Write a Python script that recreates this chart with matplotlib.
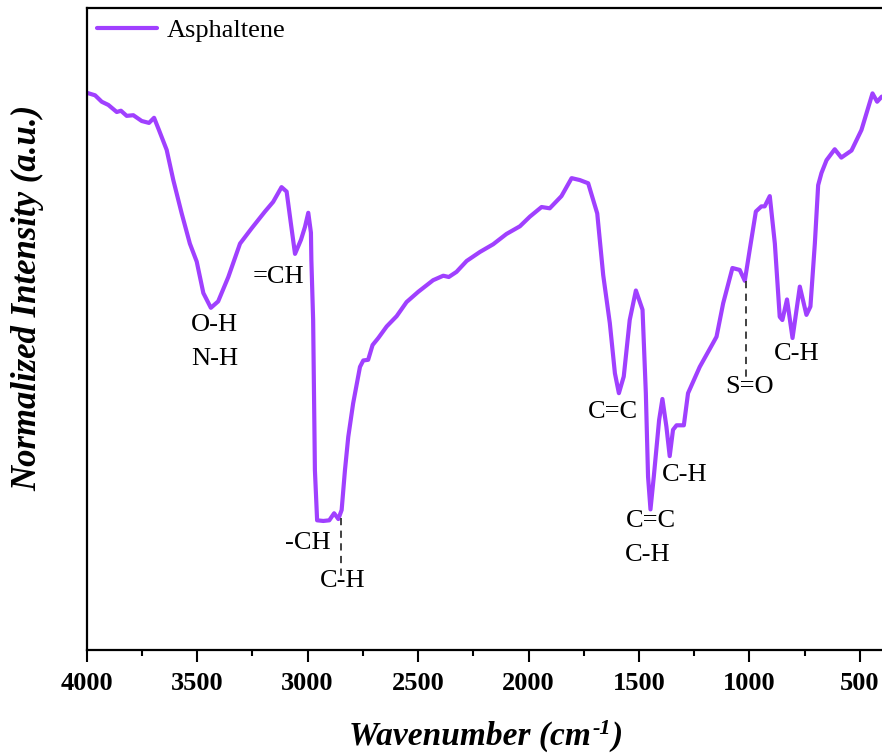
import matplotlib
matplotlib.use("Agg")
import matplotlib.pyplot as plt
from matplotlib.ticker import MultipleLocator

plt.rcParams['font.family'] = ['Liberation Serif', 'DejaVu Serif']

# ---- data ----
wavenumber = [4000, 3962, 3932, 3902, 3864, 3845, 3819, 3789, 3751, 3718, 3695, 3673,
              3638, 3608, 3570, 3533, 3502, 3472, 3438, 3405, 3359, 3306, 3253, 3193,
              3156, 3118, 3095, 3076, 3057, 3030, 3012, 2997, 2985, 2983, 2975, 2967,
              2957, 2929, 2902, 2880, 2861, 2846, 2831, 2816, 2794, 2763, 2748, 2726,
              2706, 2680, 2642, 2597, 2552, 2499, 2432, 2386, 2361, 2326, 2280, 2220,
              2160, 2100, 2039, 1994, 1941, 1904, 1851, 1805, 1768, 1730, 1689, 1662,
              1632, 1609, 1591, 1569, 1542, 1514, 1484, 1469, 1459, 1448, 1433, 1409,
              1394, 1376, 1361, 1346, 1330, 1297, 1278, 1225, 1165, 1149, 1119, 1077,
              1044, 1021, 999, 971, 946, 931, 908, 885, 863, 851, 830, 805, 772, 742,
              724, 704, 689, 674, 651, 614, 584, 538, 493, 443, 422, 401]
intensity = [86.8, 86.4, 85.4, 84.9, 83.8, 84.0, 83.2, 83.3, 82.4, 82.1, 82.9, 81.0,
             77.9, 73.2, 68.0, 63.3, 60.5, 55.6, 53.3, 54.3, 58.1, 63.3, 65.7, 68.3,
             69.8, 72.1, 71.4, 66.5, 61.7, 63.9, 65.9, 68.1, 65.0, 60.7, 51.4, 28.0,
             20.2, 20.1, 20.2, 21.3, 20.4, 21.8, 28.0, 33.2, 38.4, 44.1, 45.1, 45.2,
             47.5, 48.6, 50.4, 52.0, 54.2, 55.8, 57.6, 58.3, 58.1, 58.9, 60.6, 62.0,
             63.2, 64.8, 66.0, 67.5, 69.0, 68.8, 70.7, 73.5, 73.2, 72.7, 68.0, 58.4,
             50.9, 43.1, 40.0, 42.6, 51.4, 56.0, 53.0, 40.0, 27.0, 21.9, 27.0, 35.8,
             39.1, 34.8, 30.2, 34.3, 35.0, 35.0, 40.0, 44.1, 47.8, 48.8, 54.0, 59.5,
             59.2, 57.5, 62.3, 68.3, 69.1, 69.1, 70.7, 63.3, 51.9, 51.4, 54.6, 48.6,
             56.6, 52.2, 53.5, 63.3, 72.4, 74.3, 76.3, 78.0, 76.7, 77.8, 81.0, 86.7,
             85.4, 86.2]
series_name = "Asphaltene"

# band labels: (text, wavenumber, intensity)
band_labels = [("O-H", 3421, 50.7), ("N-H", 3421, 45.3), ("=CH", 3131, 58.1),
               ("-CH", 2997, 16.6), ("C-H", 2842, 10.8), ("C=C", 1617, 37.0),
               ("C-H", 1293, 27.3), ("C=C", 1448, 20.1), ("C-H", 1459, 14.8),
               ("S=O", 999, 40.9), ("C-H", 784, 46.1)]
# dashed leader lines: (wavenumber, y_start, y_end)
leaders = [(2849, 20.6, 11.2), (1017, 57.4, 42.3)]

xticks = [4000, 3500, 3000, 2500, 2000, 1500, 1000, 500]

W, H = 882, 753
fig = plt.figure(figsize=(W / 100, H / 100), dpi=100)
left, right, bottom, top = 86.7, 882, 650, 8
ax = fig.add_axes([left / W, (H - bottom) / H, (right - left) / W, (bottom - top) / H])

ax.plot(wavenumber, intensity, color='#A040FF', lw=3.0, solid_joinstyle='round',
        solid_capstyle='round', label=series_name)

for wn, y0, y1 in leaders:
    ax.plot([wn, wn], [y0, y1], color='#333333', lw=1.3, ls=(0, (4, 3)))

for txt, wn, y in band_labels:
    ax.text(wn, y, txt, ha='center', va='center', fontsize=19, color='black')

ax.set_xlim(4000, 400)
ax.set_ylim(0, 100)
ax.set_xticks(xticks)
ax.xaxis.set_minor_locator(MultipleLocator(250))
ax.set_yticks([])
ax.tick_params(axis='x', which='major', direction='out', length=8.5, width=1.5,
               labelsize=19, pad=7)
ax.tick_params(axis='x', which='minor', direction='out', length=4, width=1.5)
for lab in ax.get_xticklabels():
    lab.set_fontweight('bold')
for s in ['left', 'bottom', 'top']:
    ax.spines[s].set_linewidth(1.6)
ax.spines['right'].set_visible(False)

# x label built from pieces so the superscript uses a plain hyphen
renderer = fig.canvas.get_renderer()
lab_kw = dict(fontweight='bold', fontstyle='italic')
t1 = fig.text(0, 0, 'Wavenumber (cm', fontsize=24, va='baseline', ha='left', **lab_kw)
t2 = fig.text(0, 0, '-1', fontsize=16, va='baseline', ha='left', **lab_kw)
t3 = fig.text(0, 0, ')', fontsize=24, va='baseline', ha='left', **lab_kw)
w1 = t1.get_window_extent(renderer).width
w2 = t2.get_window_extent(renderer).width
w3 = t3.get_window_extent(renderer).width
total = w1 + w2 + w3 + 2
x0 = 486 - total / 2
base = H - 745  # baseline in pixels from bottom
t1.set_position((x0 / W, base / H))
t2.set_position(((x0 + w1 + 1) / W, (base + 11) / H))
t3.set_position(((x0 + w1 + w2 + 2) / W, base / H))

fig.text(28 / W, 1 - 298 / H, 'Normalized Intensity (a.u.)', ha='center', va='center',
         rotation=90, fontsize=25, **lab_kw)

leg = ax.legend(loc='upper left', bbox_to_anchor=(97 / W, 1 - 19 / H),
                bbox_transform=fig.transFigure, frameon=False, fontsize=19,
                handlelength=2.27, handletextpad=0.36, borderpad=0, borderaxespad=0)

fig.savefig('out.png', dpi=100)
